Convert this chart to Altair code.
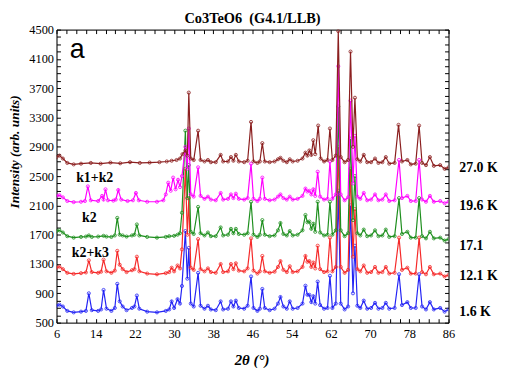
import altair as alt
import pandas as pd

# ---- data: (2theta, intensity) ----
blue_16K = [(6.0, 730), (6.6, 745), (7.3, 720), (8.2, 660), (9.5, 640), (11.0, 650), (12.0, 660), (12.6, 900), (13.2, 670),
            (14.5, 660), (15.1, 680), (15.6, 946), (16.2, 690), (17.2, 660), (17.9, 700), (18.4, 1030), (18.9, 790),
            (19.5, 720), (20.3, 670), (21.4, 700), (21.9, 720), (22.4, 870), (22.9, 690), (24.5, 650), (26.5, 640),
            (28.3, 660), (29.0, 680), (29.5, 790), (30.0, 700), (30.7, 820), (31.2, 760), (31.6, 1000), (32.3, 1750),
            (32.7, 1100), (33.0, 1520), (33.4, 760), (34.0, 720), (34.9, 1180), (35.4, 730), (36.2, 690), (36.9, 730),
            (37.5, 680), (38.5, 670), (39.5, 790), (40.0, 680), (41.0, 690), (41.6, 790), (42.1, 720), (42.6, 800),
            (43.2, 700), (44.3, 690), (45.0, 730), (45.7, 1130), (46.2, 700), (47.0, 660), (47.5, 690), (48.0, 960),
            (48.5, 700), (49.5, 670), (50.5, 690), (51.2, 760), (51.7, 850), (52.3, 720), (53.0, 690), (53.6, 790),
            (54.2, 690), (55.2, 700), (56.2, 760), (56.8, 1004), (57.2, 880), (57.6, 880), (58.0, 780), (58.4, 860),
            (58.8, 760), (59.3, 1060), (59.8, 740), (60.6, 690), (61.3, 700), (61.8, 1140), (62.3, 700), (63.0, 760),
            (63.5, 2300), (64.0, 760), (64.8, 680), (65.5, 720), (66.0, 2100), (66.5, 900), (66.9, 1550), (67.4, 730),
            (68.0, 700), (68.7, 800), (69.4, 690), (70.2, 700), (71.0, 770), (71.7, 690), (72.5, 700), (73.2, 770),
            (73.9, 690), (75.0, 700), (75.9, 1160), (76.5, 740), (77.6, 780), (78.3, 700), (79.3, 700), (80.0, 1160),
            (80.6, 720), (81.4, 680), (82.2, 780), (83.0, 680), (84.3, 700), (85.2, 650), (86.0, 680)]

red_121K = [(6.0, 1250), (6.6, 1265), (7.3, 1230), (8.2, 1180), (9.5, 1165), (11.0, 1175), (12.0, 1185), (12.6, 1350),
            (13.2, 1190), (14.5, 1180), (15.1, 1195), (15.6, 1360), (16.2, 1200), (17.2, 1180), (17.9, 1210), (18.4, 1480),
            (18.9, 1290), (19.5, 1230), (20.3, 1190), (21.4, 1215), (21.9, 1230), (22.4, 1400), (22.9, 1200), (24.5, 1170),
            (26.5, 1160), (28.3, 1175), (29.0, 1190), (29.5, 1250), (30.0, 1200), (30.7, 1280), (31.2, 1240), (31.6, 1500),
            (32.3, 2600), (32.7, 1700), (33.0, 2200), (33.4, 1250), (34.0, 1220), (34.9, 1640), (35.4, 1230), (36.2, 1200),
            (36.9, 1240), (37.5, 1190), (38.5, 1180), (39.5, 1300), (40.0, 1190), (41.0, 1200), (41.6, 1300), (42.1, 1230),
            (42.6, 1310), (43.2, 1210), (44.3, 1200), (45.0, 1240), (45.7, 1650), (46.2, 1210), (47.0, 1170), (47.5, 1200),
            (48.0, 1410), (48.5, 1200), (49.5, 1180), (50.5, 1195), (51.2, 1260), (51.7, 1340), (52.3, 1220), (53.0, 1190),
            (53.6, 1270), (54.2, 1190), (55.2, 1200), (56.2, 1260), (56.8, 1410), (57.2, 1330), (57.6, 1340), (58.0, 1260),
            (58.4, 1320), (58.8, 1240), (59.3, 1550), (59.8, 1230), (60.6, 1190), (61.3, 1200), (61.8, 1660), (62.3, 1200),
            (63.0, 1260), (63.5, 2900), (64.0, 1260), (64.8, 1180), (65.5, 1220), (66.0, 2600), (66.5, 1400), (66.9, 2050),
            (67.4, 1230), (68.0, 1200), (68.7, 1280), (69.4, 1180), (70.2, 1190), (71.0, 1260), (71.7, 1180), (72.5, 1190),
            (73.2, 1260), (73.9, 1170), (75.0, 1180), (75.9, 1660), (76.5, 1220), (77.6, 1250), (78.3, 1170), (79.3, 1170),
            (80.0, 1660), (80.6, 1190), (81.4, 1160), (82.2, 1260), (83.0, 1160), (84.3, 1170), (85.2, 1130), (86.0, 1150)]

green_171K = [(6.0, 1750), (6.6, 1760), (7.3, 1730), (8.2, 1680), (9.5, 1660), (11.0, 1670), (12.0, 1675), (12.6, 1690),
              (13.2, 1670), (14.5, 1675), (15.6, 1685), (16.2, 1675), (17.2, 1670), (17.9, 1690), (18.4, 1930), (18.9, 1700),
              (19.5, 1690), (20.3, 1675), (21.4, 1690), (21.9, 1700), (22.4, 1840), (22.9, 1690), (24.5, 1670), (26.5, 1660),
              (28.3, 1670), (29.0, 1680), (30.0, 1685), (30.7, 1700), (31.2, 1720), (31.6, 2000), (32.3, 3120), (32.7, 2200),
              (33.0, 2650), (33.4, 1740), (34.0, 1710), (34.9, 2080), (35.4, 1720), (36.2, 1690), (36.9, 1730), (37.5, 1680),
              (38.5, 1680), (39.5, 1800), (40.0, 1690), (41.0, 1700), (41.6, 1780), (42.1, 1720), (42.6, 1780), (43.2, 1710),
              (44.3, 1700), (45.0, 1720), (45.7, 2150), (46.2, 1700), (47.0, 1670), (47.5, 1700), (48.0, 1900), (48.5, 1700),
              (49.5, 1680), (50.5, 1690), (51.2, 1760), (51.7, 1860), (52.3, 1710), (53.0, 1690), (53.6, 1750), (54.2, 1690),
              (55.2, 1700), (56.2, 1760), (56.8, 1970), (57.2, 1870), (57.6, 1880), (58.0, 1780), (58.4, 1850), (58.8, 1740),
              (59.3, 2150), (59.8, 1730), (60.6, 1690), (61.3, 1700), (61.8, 2150), (62.3, 1700), (63.0, 1760), (63.5, 3450),
              (64.0, 1760), (64.8, 1680), (65.5, 1720), (66.0, 3010), (66.5, 1900), (66.9, 2500), (67.4, 1720), (68.0, 1690),
              (68.7, 1770), (69.4, 1680), (70.2, 1690), (71.0, 1760), (71.7, 1680), (72.5, 1690), (73.2, 1770), (73.9, 1670),
              (75.0, 1680), (75.9, 2200), (76.5, 1710), (77.6, 1740), (78.3, 1660), (79.3, 1660), (80.0, 2200), (80.6, 1680),
              (81.4, 1650), (82.2, 1740), (83.0, 1650), (84.3, 1660), (85.2, 1620), (86.0, 1640)]

magenta_196K = [(6.0, 2230), (6.6, 2240), (7.3, 2210), (8.2, 2160), (9.5, 2145), (11.0, 2150), (11.8, 2160), (12.4, 2360),
                (13.0, 2170), (14.5, 2160), (15.3, 2230), (15.6, 2180), (16.0, 2320), (16.5, 2170), (17.6, 2165), (18.1, 2180),
                (18.6, 2310), (19.2, 2180), (20.5, 2160), (21.6, 2170), (22.2, 2270), (22.8, 2170), (24.5, 2150), (26.5, 2150),
                (27.8, 2170), (28.3, 2250), (28.8, 2410), (29.3, 2300), (29.8, 2480), (30.3, 2320), (30.8, 2450), (31.2, 2350),
                (31.6, 2500), (32.3, 2900), (32.7, 2600), (33.0, 3150), (33.4, 2250), (34.0, 2220), (34.9, 2620), (35.4, 2230),
                (36.2, 2190), (36.9, 2220), (37.5, 2180), (38.5, 2170), (39.5, 2270), (40.0, 2180), (41.0, 2190), (41.6, 2250),
                (42.1, 2200), (42.6, 2260), (43.2, 2190), (44.3, 2180), (45.0, 2200), (45.7, 2670), (46.2, 2190), (47.0, 2160),
                (47.5, 2190), (48.0, 2480), (48.5, 2190), (49.5, 2170), (50.5, 2180), (51.2, 2220), (51.7, 2250), (52.3, 2200),
                (53.0, 2180), (53.6, 2220), (54.2, 2180), (55.2, 2190), (56.2, 2230), (56.8, 2330), (57.2, 2290), (57.6, 2300),
                (58.0, 2250), (58.4, 2320), (58.8, 2230), (59.3, 2560), (59.8, 2220), (60.6, 2180), (61.3, 2190), (61.8, 2700),
                (62.3, 2190), (63.0, 2250), (63.5, 4000), (64.0, 2250), (64.8, 2170), (65.5, 2210), (66.0, 3530), (66.5, 2400),
                (66.9, 3050), (67.4, 2220), (68.0, 2190), (68.7, 2270), (69.4, 2170), (70.2, 2180), (71.0, 2250), (71.7, 2170),
                (72.5, 2180), (73.2, 2250), (73.9, 2160), (75.0, 2170), (75.9, 2720), (76.5, 2200), (77.6, 2230), (78.3, 2160),
                (79.3, 2160), (80.0, 2720), (80.6, 2180), (81.4, 2150), (82.2, 2230), (83.0, 2150), (84.3, 2160), (85.2, 2130),
                (86.0, 2150)]

brown_270K = [(6.0, 2760), (6.6, 2780), (7.3, 2740), (8.2, 2680), (9.5, 2660), (11.0, 2670), (13.0, 2680), (15.0, 2670),
              (17.0, 2685), (19.0, 2675), (21.0, 2690), (23.0, 2680), (25.0, 2685), (27.0, 2690), (28.5, 2700), (29.5, 2710),
              (30.5, 2720), (31.2, 2740), (31.7, 2800), (32.3, 2850), (32.7, 2780), (33.0, 3640), (33.4, 2740), (34.0, 2720),
              (34.9, 3120), (35.4, 2720), (36.2, 2700), (36.9, 2720), (37.5, 2690), (38.5, 2690), (39.5, 2790), (40.0, 2700),
              (41.0, 2700), (41.6, 2760), (42.1, 2710), (42.6, 2790), (43.2, 2700), (44.3, 2690), (45.0, 2710), (45.7, 3240),
              (46.2, 2700), (47.0, 2680), (47.5, 2700), (48.0, 2950), (48.5, 2700), (49.5, 2690), (50.5, 2700), (51.2, 2730),
              (51.7, 2750), (52.3, 2710), (53.0, 2690), (53.6, 2730), (54.2, 2700), (55.2, 2710), (56.2, 2740), (56.8, 2820),
              (57.2, 2780), (57.6, 2850), (58.0, 2790), (58.4, 2990), (58.8, 2800), (59.4, 3190), (59.9, 2740), (60.6, 2700),
              (61.3, 2720), (61.8, 3150), (62.3, 2720), (63.0, 2780), (63.5, 4480), (64.0, 2760), (64.8, 2690), (65.5, 2720),
              (66.0, 4200), (66.5, 2900), (66.9, 3570), (67.4, 2730), (68.0, 2700), (68.7, 2790), (69.4, 2690), (70.2, 2690),
              (71.0, 2740), (71.7, 2680), (72.5, 2690), (73.2, 2760), (73.9, 2670), (75.0, 2680), (75.8, 3200), (76.5, 2700),
              (77.6, 2720), (78.3, 2660), (79.3, 2670), (80.0, 3190), (80.6, 2680), (81.4, 2650), (82.2, 2760), (83.0, 2640),
              (84.3, 2650), (85.2, 2600), (86.0, 2620)]

series_names = ["1.6 K", "12.1 K", "17.1", "19.6 K", "27.0 K"]
series_data = [blue_16K, red_121K, green_171K, magenta_196K, brown_270K]
series_colors = ["#2323f5", "#f52a2a", "#1e8f1e", "#ff00ff", "#8b1f1f"]

temp_labels = ["27.0 K", "19.6 K", "17.1", "12.1 K", "1.6 K"]
temp_label_y = [2608, 2085, 1545, 1140, 645]
temp_label_x = 88.2

k_labels = ["k1+k2", "k2", "k2+k3"]
k_label_x = [13.8, 12.7, 12.9]
k_label_y = [2473, 1932, 1446]

title_text = "Co3TeO6\u00a0\u00a0(G4.1/LLB)"
title_x = 46.0
title_y = 4650

x_ticks = list(range(6, 87, 2))
y_ticks = list(range(500, 4501, 100))

SERIF = "Liberation Serif"

x_scale = alt.Scale(domain=[6, 86], nice=False, zero=False)
y_scale = alt.Scale(domain=[500, 4500], nice=False, zero=False)

x_axis = alt.Axis(values=x_ticks, labelExpr="(datum.value - 6) % 8 == 0 ? datum.label : ''",
                  title="2θ (°)", titleFont=SERIF, titleFontSize=15, titleFontWeight="bold",
                  titleFontStyle="italic", titleColor="black", titleX=197, titleY=37, titleBaseline="middle",
                  labelFont=SERIF, labelFontSize=12.5, labelColor="black", labelPadding=9,
                  tickSize={"expr": "-4"}, tickColor="black", domainColor="black", grid=False,
                  labelFlush=False, labelOverlap=False)
y_axis = alt.Axis(values=y_ticks, labelExpr="(datum.value - 500) % 400 == 0 ? datum.label : ''",
                  format="d", title="Intensity (arb. units)", titleFont=SERIF, titleFontSize=13.5,
                  titleFontWeight="bold", titleFontStyle="italic", titleColor="black",
                  titleX=-42, titleY=123, titleBaseline="middle",
                  labelFont=SERIF, labelFontSize=12.5, labelColor="black", labelPadding=7,
                  tickSize={"expr": "-4"}, tickColor="black", domainColor="black", grid=False,
                  labelFlush=False, labelOverlap=False)

X = alt.X("tth:Q", scale=x_scale, axis=x_axis)
Y = alt.Y("I:Q", scale=y_scale, axis=y_axis)

layers = []
for name, pts, col in zip(series_names, series_data, series_colors):
    df = pd.DataFrame(pts, columns=["tth", "I"])
    df["series"] = name
    layers.append(
        alt.Chart(df).mark_line(color=col, strokeWidth=1.2, clip=True,
                                point=alt.OverlayMarkDef(filled=False, color=col, size=10, strokeWidth=0.8))
        .encode(x=X, y=Y)
    )

tdf = pd.DataFrame({"tth": [temp_label_x] * len(temp_labels), "I": temp_label_y, "txt": temp_labels})
layers.append(alt.Chart(tdf).mark_text(font=SERIF, fontSize=14, fontWeight="bold", align="left",
                                        baseline="middle", color="black").encode(x=X, y=Y, text="txt:N"))
kdf = pd.DataFrame({"tth": k_label_x, "I": k_label_y, "txt": k_labels})
layers.append(alt.Chart(kdf).mark_text(font=SERIF, fontSize=14, fontWeight="bold", align="center",
                                        baseline="middle", color="black").encode(x=X, y=Y, text="txt:N"))
adf = pd.DataFrame({"tth": [10.2], "I": [4216], "txt": ["a"]})
layers.append(alt.Chart(adf).mark_text(font="Liberation Sans", fontSize=27, align="center",
                                        baseline="middle", color="black").encode(x=X, y=Y, text="txt:N"))
ttl = pd.DataFrame({"tth": [title_x], "I": [title_y], "txt": [title_text]})
layers.append(alt.Chart(ttl).mark_text(font=SERIF, fontSize=14.5, fontWeight="bold", align="center",
                                        baseline="middle", color="black").encode(x=X, y=Y, text="txt:N"))

inner = alt.layer(*layers)

x_top = alt.Axis(orient="top", values=x_ticks, labels=False, title=None, tickSize={"expr": "-4"},
                 tickColor="black", domainColor="black", grid=False)
y_right = alt.Axis(orient="right", values=y_ticks, labels=False, title=None, tickSize={"expr": "-4"},
                   tickColor="black", domainColor="black", grid=False)
frame = alt.Chart(pd.DataFrame({"tth": [6, 86], "I": [500, 4500]})).mark_point(opacity=0).encode(
    x=alt.X("tth:Q", scale=x_scale, axis=x_top), y=alt.Y("I:Q", scale=y_scale, axis=y_right))

chart = alt.layer(inner, frame).resolve_axis(x="independent", y="independent").properties(
    width=396, height=296,
    padding={"left": 49, "top": 20, "right": 52, "bottom": 44},
    autosize=alt.AutoSizeParams(type="none"),
).configure_view(stroke="black", strokeWidth=1).configure(background="white")

chart.save("out.html", embed_options={"renderer": "svg", "actions": False})
